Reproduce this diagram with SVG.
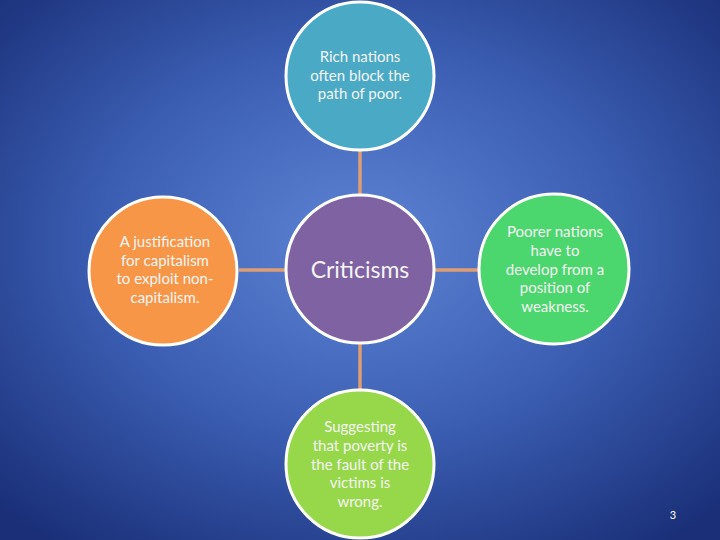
<svg xmlns="http://www.w3.org/2000/svg" width="720" height="540" viewBox="0 0 720 540">
<defs>
<radialGradient id="bg" cx="50%" cy="45%" r="70%">
<stop offset="0" stop-color="#5e84d4"/>
<stop offset="0.5" stop-color="#3c5fb4"/>
<stop offset="1" stop-color="#1a2f78"/>
</radialGradient>
</defs>
<style>
.node{stroke:#ffffff;stroke-width:3}
.t{font-family:Lato,"Open Sans",sans-serif;font-size:15px;fill:#f4f4f4;text-anchor:middle}
.c{stroke:#df9d72;stroke-width:3.5;fill:none}
</style>
<rect width="720" height="540" fill="url(#bg)"/>
<g id="connectors">
<line class="c" x1="360" y1="150" x2="360" y2="194"/>
<line class="c" x1="239" y1="270" x2="285" y2="270"/>
<line class="c" x1="435" y1="270" x2="478" y2="270"/>
<line class="c" x1="360" y1="344" x2="360" y2="389"/>
</g>
<g id="top">
<circle class="node" cx="360" cy="76" r="74" fill="#4aaac6"/>
<text class="t" x="360" y="62">Rich nations</text>
<text class="t" x="360" y="80.5">often block the</text>
<text class="t" x="360" y="99">path of poor.</text>
</g>
<g id="left">
<circle class="node" cx="163" cy="271" r="74" fill="#f79646"/>
<text class="t" x="165" y="247">A justification</text>
<text class="t" x="165" y="265.5">for capitalism</text>
<text class="t" x="165" y="284">to exploit non-</text>
<text class="t" x="165" y="302.5">capitalism.</text>
</g>
<g id="center">
<circle class="node" cx="360" cy="269" r="74" fill="#7f62a1"/>
<text class="t" x="360" y="277.5" style="font-size:23px">Criticisms</text>
</g>
<g id="right">
<circle class="node" cx="554" cy="269" r="75" fill="#4cd66e"/>
<text class="t" x="555" y="237">Poorer nations</text>
<text class="t" x="555" y="256">have to</text>
<text class="t" x="555" y="274.5">develop from a</text>
<text class="t" x="555" y="293">position of</text>
<text class="t" x="555" y="311.5">weakness.</text>
</g>
<g id="bottom">
<circle class="node" cx="360" cy="464" r="74" fill="#97d84a"/>
<text class="t" x="360" y="432">Suggesting</text>
<text class="t" x="360" y="451">that poverty is</text>
<text class="t" x="360" y="469.5">the fault of the</text>
<text class="t" x="360" y="488">victims is</text>
<text class="t" x="360" y="506.5">wrong.</text>
</g>
<text x="673" y="519" style="font-family:Lato,sans-serif;font-size:11px;fill:#ffffff;text-anchor:middle">3</text>
</svg>
